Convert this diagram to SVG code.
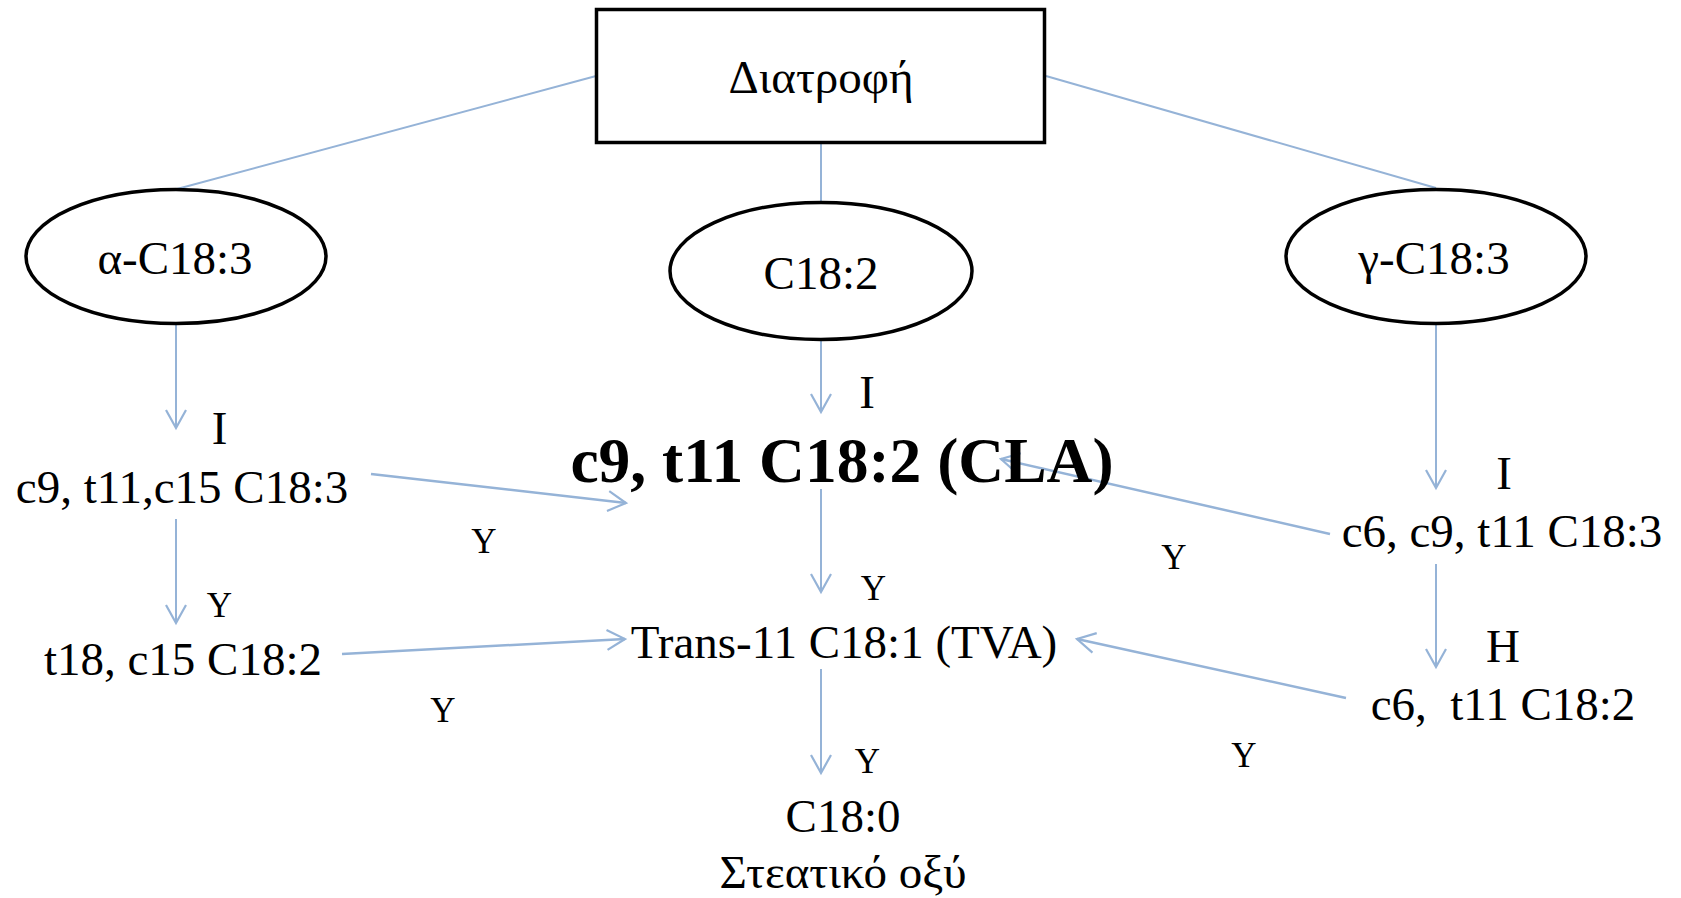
<svg xmlns="http://www.w3.org/2000/svg" width="1681" height="898" viewBox="0 0 1681 898">
<style>
.t{font-family:"Liberation Serif","Times New Roman",serif;font-size:47px;fill:#000;text-anchor:middle;white-space:pre}
.b{font-weight:bold;font-size:63.5px}
.y{font-size:35px}
.shape{fill:#fff;stroke:#000;stroke-width:3.5}
.c{stroke:#95B3D7;fill:none;stroke-width:2}
.d{stroke-width:2.5}
</style>
<defs>
<marker id="ah" markerUnits="userSpaceOnUse" viewBox="-22 -13 25 26" refX="0" refY="0" markerWidth="25" markerHeight="26" orient="auto">
<path d="M-18,-10 L0,0 L-18,10" fill="none" stroke="#95B3D7" stroke-width="2.2"/>
</marker>
</defs>
<rect width="1681" height="898" fill="#fff"/>
<g id="connectors">
<line class="c" x1="596" y1="76" x2="177" y2="189"/>
<line class="c" x1="821" y1="144" x2="821" y2="202"/>
<line class="c" x1="1046" y1="76" x2="1436" y2="188"/>
<line class="c" x1="176" y1="324" x2="176" y2="428" marker-end="url(#ah)"/>
<line class="c" x1="821" y1="340" x2="821" y2="412" marker-end="url(#ah)"/>
<line class="c" x1="1436" y1="324" x2="1436" y2="488" marker-end="url(#ah)"/>
<line class="c" x1="176" y1="519" x2="176" y2="623" marker-end="url(#ah)"/>
<line class="c" x1="821" y1="489" x2="821" y2="592" marker-end="url(#ah)"/>
<line class="c" x1="821" y1="669" x2="821" y2="773" marker-end="url(#ah)"/>
<line class="c" x1="1436" y1="564" x2="1436" y2="667" marker-end="url(#ah)"/>
<line class="c d" x1="371" y1="474" x2="626" y2="503" marker-end="url(#ah)"/>
<line class="c d" x1="342" y1="654" x2="625" y2="639" marker-end="url(#ah)"/>
<line class="c d" x1="1330" y1="534" x2="1001" y2="459" marker-end="url(#ah)"/>
<line class="c d" x1="1346" y1="698" x2="1077" y2="639" marker-end="url(#ah)"/>
</g>
<g id="diatrofi">
<rect class="shape" x="596.5" y="9.5" width="448" height="133"/>
<text class="t" x="821" y="93">Διατροφή</text>
</g>
<g id="alpha">
<ellipse class="shape" cx="176" cy="256.5" rx="150" ry="67"/>
<text class="t" x="175" y="274">α-C18:3</text>
</g>
<g id="c182">
<ellipse class="shape" cx="821" cy="271" rx="151" ry="68.5"/>
<text class="t" x="821" y="289">C18:2</text>
</g>
<g id="gamma">
<ellipse class="shape" cx="1436" cy="256.5" rx="150" ry="67"/>
<text class="t" x="1434" y="274">γ-C18:3</text>
</g>
<g id="c9t11c15">
<text class="t" x="182" y="503">c9, t11,c15 C18:3</text>
</g>
<g id="t18c15">
<text class="t" x="183" y="675">t18, c15 C18:2</text>
</g>
<g id="cla">
<text class="t b" x="842" y="482">c9, t11 C18:2 (CLA)</text>
</g>
<g id="tva">
<text class="t" x="844" y="658">Trans-11 C18:1 (TVA)</text>
</g>
<g id="c180">
<text class="t" x="843" y="832">C18:0</text>
<text class="t" x="843" y="888">Στεατικό οξύ</text>
</g>
<g id="c6c9t11">
<text class="t" x="1502" y="547">c6, c9, t11 C18:3</text>
</g>
<g id="c6t11">
<text class="t" x="1503" y="720">c6,  t11 C18:2</text>
</g>
<g id="labels">
<text class="t" x="219.5" y="444">I</text>
<text class="t" x="867" y="408">I</text>
<text class="t" x="1504" y="489">I</text>
<text class="t" x="1503" y="662">H</text>
<text class="t y" x="219.5" y="617">Y</text>
<text class="t y" x="484" y="553">Y</text>
<text class="t y" x="443" y="722">Y</text>
<text class="t y" x="873.5" y="600">Y</text>
<text class="t y" x="867.5" y="773">Y</text>
<text class="t y" x="1174" y="569">Y</text>
<text class="t y" x="1244" y="767">Y</text>
</g>
</svg>
